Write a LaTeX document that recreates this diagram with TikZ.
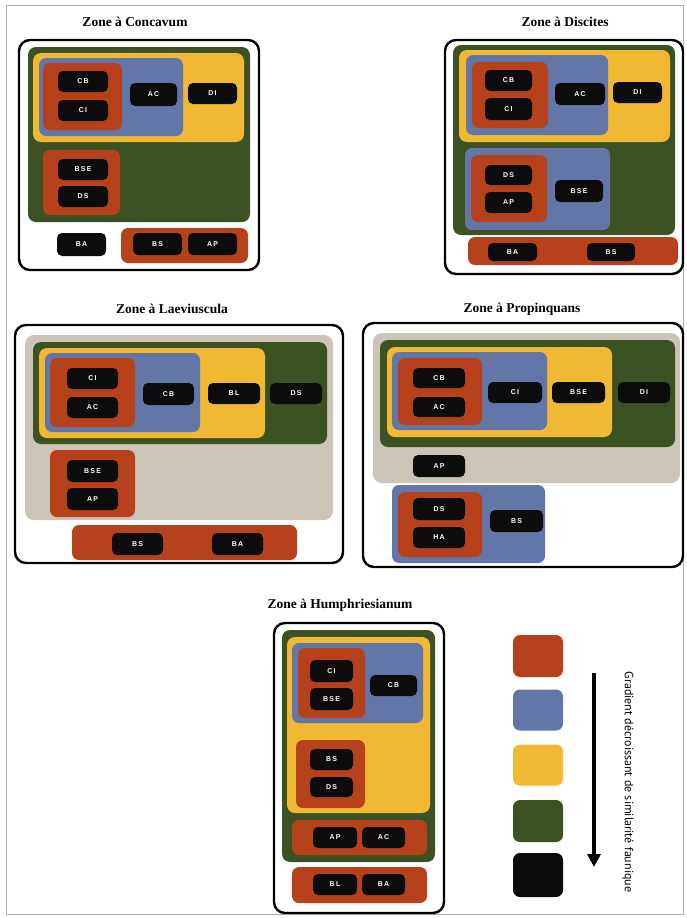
\documentclass[tikz,border=0pt]{standalone}
\usepackage{fontspec}
\setmainfont{Liberation Serif}
\newfontfamily\labfont[LetterSpace=18]{Liberation Sans}
\newfontfamily\legfont{PT Sans}
\usetikzlibrary{arrows.meta}
\definecolor{cred}{HTML}{B7411B}
\definecolor{cblue}{HTML}{6277A8}
\definecolor{cyel}{HTML}{F1B833}
\definecolor{cgreen}{HTML}{3C5222}
\definecolor{cgrey}{HTML}{CCC4B6}
\definecolor{cblack}{HTML}{0C0C0C}
\tikzset{
  lab/.style={fill=cblack, rounded corners=5pt, text=white, inner sep=0pt,
    font=\labfont\bfseries\fontsize{7}{8}\selectfont},
  frame/.style={draw=black, line width=2.4pt, fill=white, rounded corners=11pt},
  ttl/.style={font=\bfseries\fontsize{13.5}{15}\selectfont},
  zr/.style={fill=cred, rounded corners=7pt},
  zb/.style={fill=cblue, rounded corners=7pt},
  zy/.style={fill=cyel, rounded corners=8pt},
  zg/.style={fill=cgreen, rounded corners=8pt},
  zgr/.style={fill=cgrey, rounded corners=9pt},
  sq/.style={rounded corners=7pt}
}
\newcommand\lb[6]{\node[lab, minimum width={(#4-#2)*1pt}, minimum height={(#5-#3)*1pt}] (#1) at ({(#2+#4)/2},{(#3+#5)/2}) {#6};}
\newcommand\zbox[5]{\path[#1] (#2,#3) rectangle (#4,#5);}
\begin{document}
\begin{tikzpicture}[x=1pt,y=-1pt]
\useasboundingbox (0,0) rectangle (687,918);
\fill[white] (0,0) rectangle (687,918);
\draw[gray!60, line width=1pt] (6,5) rectangle (683,914);

% ---------- Zone a Concavum ----------
\node[ttl] (t1) at (135,22) {Zone à Concavum};
\zbox{frame}{19}{40}{259}{270}
\zbox{zg}{28}{47}{250}{222}
\zbox{zy}{33}{53}{244}{142}
\zbox{zb}{39}{58}{183}{136}
\zbox{zr}{43}{63}{122}{130}
\lb{c1}{58}{71}{108}{92}{CB}
\lb{c2}{58}{100}{108}{121}{CI}
\lb{c3}{130}{83}{177}{106}{AC}
\lb{c4}{188}{83}{237}{104}{DI}
\zbox{zr}{43}{150}{120}{215}
\lb{c5}{58}{159}{108}{180}{BSE}
\lb{c6}{58}{186}{108}{207}{DS}
\lb{c7}{57}{233}{106}{256}{BA}
\zbox{zr}{121}{228}{248}{263}
\lb{c8}{133}{233}{182}{255}{BS}
\lb{c9}{188}{233}{237}{255}{AP}

% ---------- Zone a Discites ----------
\node[ttl] (t2) at (565,22) {Zone à Discites};
\zbox{frame}{445}{40}{683}{274}
\zbox{zg}{453}{45}{675}{235}
\zbox{zy}{459}{50}{670}{142}
\zbox{zb}{466}{55}{608}{135}
\zbox{zr}{472}{62}{548}{128}
\lb{d1}{485}{70}{532}{91}{CB}
\lb{d2}{485}{98}{532}{120}{CI}
\lb{d3}{555}{83}{605}{105}{AC}
\lb{d4}{613}{82}{662}{103}{DI}
\zbox{zb}{465}{148}{610}{230}
\zbox{zr}{471}{155}{547}{222}
\lb{d5}{485}{165}{532}{185}{DS}
\lb{d6}{485}{192}{532}{213}{AP}
\lb{d7}{555}{180}{603}{202}{BSE}
\zbox{zr}{468}{237}{678}{265}
\lb{d8}{488}{243}{537}{261}{BA}
\lb{d9}{587}{243}{635}{261}{BS}

% ---------- Zone a Laeviuscula ----------
\node[ttl] (t3) at (172,309) {Zone à Laeviuscula};
\zbox{frame}{15}{325}{343}{563}
\zbox{zgr}{25}{335}{333}{520}
\zbox{zg}{33}{342}{327}{444}
\zbox{zy}{39}{348}{265}{438}
\zbox{zb}{45}{353}{200}{432}
\zbox{zr}{50}{358}{135}{427}
\lb{l1}{67}{368}{118}{389}{CI}
\lb{l2}{67}{397}{118}{418}{AC}
\lb{l3}{143}{383}{194}{405}{CB}
\lb{l4}{208}{383}{260}{404}{BL}
\lb{l5}{270}{383}{322}{404}{DS}
\zbox{zr}{50}{450}{135}{517}
\lb{l6}{67}{460}{118}{482}{BSE}
\lb{l7}{67}{488}{118}{510}{AP}
\zbox{zr}{72}{525}{297}{560}
\lb{l8}{112}{533}{163}{555}{BS}
\lb{l9}{212}{533}{263}{555}{BA}

% ---------- Zone a Propinquans ----------
\node[ttl] (t4) at (522,309) {Zone à Propinquans};
\zbox{frame}{363}{323}{683}{567}
\zbox{zgr}{373}{333}{680}{483}
\zbox{zg}{380}{340}{675}{447}
\zbox{zy}{387}{347}{612}{437}
\zbox{zb}{392}{352}{547}{430}
\zbox{zr}{398}{358}{482}{425}
\lb{p1}{413}{368}{465}{388}{CB}
\lb{p2}{413}{397}{465}{417}{AC}
\lb{p3}{488}{382}{542}{403}{CI}
\lb{p4}{552}{382}{605}{403}{BSE}
\lb{p5}{618}{382}{670}{403}{DI}
\lb{p6}{413}{455}{465}{477}{AP}
\zbox{zb}{392}{485}{545}{563}
\zbox{zr}{398}{492}{482}{557}
\lb{p7}{413}{498}{465}{520}{DS}
\lb{p8}{413}{527}{465}{548}{HA}
\lb{p9}{490}{510}{543}{532}{BS}

% ---------- Zone a Humphriesianum ----------
\node[ttl] (t5) at (340,605) {Zone à Humphriesianum};
\zbox{frame}{274}{623}{444}{913}
\zbox{zg}{282}{630}{435}{862}
\zbox{zy}{287}{637}{430}{813}
\zbox{zb}{292}{643}{423}{723}
\zbox{zr}{298}{648}{365}{718}
\lb{h1}{310}{660}{353}{682}{CI}
\lb{h2}{310}{688}{353}{710}{BSE}
\lb{h3}{370}{675}{417}{696}{CB}
\zbox{zr}{296}{740}{365}{808}
\lb{h4}{310}{749}{353}{770}{BS}
\lb{h5}{310}{777}{353}{797}{DS}
\zbox{zr}{292}{820}{427}{855}
\lb{h6}{313}{827}{357}{848}{AP}
\lb{h7}{362}{827}{405}{848}{AC}
\zbox{zr}{292}{867}{427}{903}
\lb{h8}{313}{874}{357}{895}{BL}
\lb{h9}{362}{874}{405}{895}{BA}

% ---------- Legend ----------
\node[sq, fill=cred, minimum width=50pt, minimum height=42pt] (s1) at (538,656) {};
\node[sq, fill=cblue, minimum width=50pt, minimum height=41pt] (s2) at (538,710) {};
\node[sq, fill=cyel, minimum width=50pt, minimum height=41pt] (s3) at (538,765) {};
\node[sq, fill=cgreen, minimum width=50pt, minimum height=42pt] (s4) at (538,821) {};
\node[sq, fill=cblack, minimum width=50pt, minimum height=44pt] (s5) at (538,875) {};
\coordinate (a1) at (594,673);
\coordinate (a2) at (594,867);
\draw[line width=3.2pt, -{Triangle[length=13pt,width=13pt]}] (a1) -- (a2);
\node[rotate=-90, font=\legfont\fontsize{12}{14}\selectfont] (leg) at (628,782) {Gradient décroissant de similarité faunique};
\end{tikzpicture}
\end{document}
